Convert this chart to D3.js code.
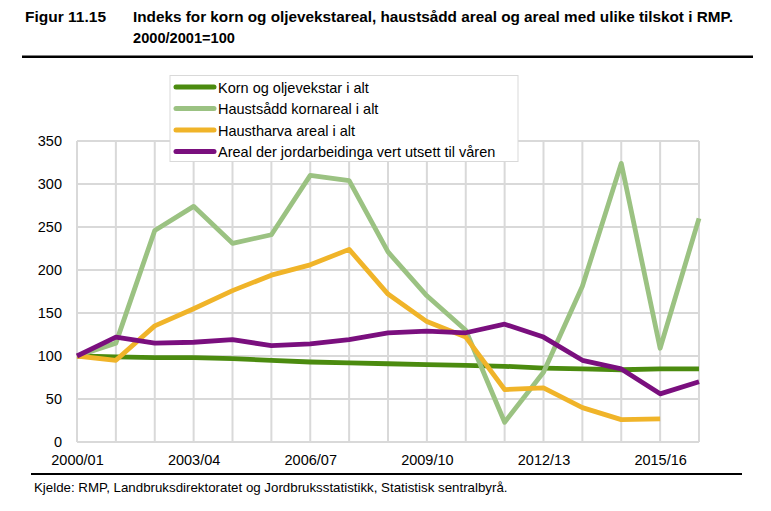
<!DOCTYPE html>
<html><head><meta charset="utf-8">
<script src="https://cdn.jsdelivr.net/npm/d3@7"></script>
<style>body{margin:0;background:#fff;} svg{display:block;font-family:"Liberation Sans",Arial,sans-serif;}</style>
</head><body>
<svg id="c" width="771" height="511"></svg>
<script>
const categories = ["2000/01","2001/02","2002/03","2003/04","2004/05","2005/06","2006/07","2007/08","2008/09","2009/10","2010/11","2011/12","2012/13","2013/14","2014/15","2015/16","2016/17"];
const tickLabels = ["2000/01","2003/04","2006/07","2009/10","2012/13","2015/16"];
const yTicks = [0,50,100,150,200,250,300,350];
const seriesNames = ["Korn og oljevekstar i alt","Haustsådd kornareal i alt","Haustharva areal i alt","Areal der jordarbeidinga vert utsett til våren"];
const korn = [100,99,98,98,97,95,93,92,91,90,89,88,86,85,84,85,85];
const haustsadd = [100,115,246,274,231,241,310,304,221,170,130,23,81,181,324,109,260];
const haustharva = [100,95,135,155,176,194,206,224,172,140,122,61,63,40,26,27,null];
const areal = [100,122,115,116,119,112,114,119,127,129,127,137,122,95,85,56,70];
const colors = ["#4b8b0f","#9bc282","#f0b429","#7a0f7e"];

const svg = d3.select("#c");
const tf = "'Liberation Sans Narrow','Liberation Sans',Arial";
svg.append("text").attr("x",25).attr("y",22).attr("font-weight","bold").attr("font-size",15.5)
  .attr("font-family",tf).attr("textLength",81).attr("lengthAdjust","spacingAndGlyphs").text("Figur 11.15");
svg.append("text").attr("x",133).attr("y",22).attr("font-weight","bold").attr("font-size",15.5)
  .attr("font-family",tf).attr("textLength",600).attr("lengthAdjust","spacingAndGlyphs")
  .text("Indeks for korn og oljevekstareal, haustsådd areal og areal med ulike tilskot i RMP.");
svg.append("text").attr("x",133).attr("y",43).attr("font-weight","bold").attr("font-size",15.5)
  .attr("font-family",tf).attr("textLength",102).attr("lengthAdjust","spacingAndGlyphs").text("2000/2001=100");
svg.append("rect").attr("x",22).attr("y",55.5).attr("width",731).attr("height",2.5).attr("fill","#000");

const x = d3.scalePoint().domain(categories).range([77,699]);
const y = d3.scaleLinear().domain([0,350]).range([442,141]);

const g = svg.append("g");
g.selectAll("line.h").data(yTicks).enter().append("line")
  .attr("x1",77).attr("x2",699).attr("y1",d=>y(d)).attr("y2",d=>y(d))
  .attr("stroke","#d9d9d9").attr("stroke-width",2);
g.selectAll("line.v").data(categories).enter().append("line")
  .attr("x1",d=>x(d)).attr("x2",d=>x(d)).attr("y1",y(0)).attr("y2",y(350))
  .attr("stroke","#d9d9d9").attr("stroke-width",2);

const yAxis = d3.axisLeft(y).tickValues(yTicks).tickSize(0).tickPadding(15);
const ya = svg.append("g").attr("transform","translate(77,0)").call(yAxis);
ya.select(".domain").remove();
ya.selectAll("text").attr("font-size",14.5).attr("fill","#000").attr("font-family","'Liberation Sans',Arial");
const xAxis = d3.axisBottom(x).tickValues(tickLabels).tickSize(0).tickPadding(13);
const xa = svg.append("g").attr("transform","translate(0,442)").call(xAxis);
xa.select(".domain").remove();
xa.selectAll("text").attr("font-size",14.5).attr("fill","#000").attr("font-family","'Liberation Sans',Arial");

const allSeries = [korn,haustsadd,haustharva,areal];
const line = d3.line().defined(d=>d[1]!=null).x(d=>x(d[0])).y(d=>y(d[1]));
[0,1,2,3].forEach(i=>{
  svg.append("path").datum(categories.map((c,j)=>[c,allSeries[i][j]]))
    .attr("d",line).attr("fill","none").attr("stroke",colors[i]).attr("stroke-width",4.8)
    .attr("stroke-linejoin","round");
});

const lg = svg.append("g");
lg.append("rect").attr("x",170).attr("y",75.5).attr("width",348).attr("height",86)
  .attr("fill","#fff").attr("stroke","#d9d9d9").attr("stroke-width",1);
seriesNames.forEach((n,i)=>{
  const yy = 87 + i*21.5;
  lg.append("line").attr("x1",176).attr("x2",214).attr("y1",yy).attr("y2",yy)
    .attr("stroke",colors[i]).attr("stroke-width",5).attr("stroke-linecap","round");
  lg.append("text").attr("x",218).attr("y",yy+5.5).attr("font-size",14.5).text(n);
});

svg.append("rect").attr("x",31).attr("y",473).attr("width",711).attr("height",2).attr("fill","#000");
svg.append("text").attr("x",34).attr("y",492).attr("font-size",13.3)
  .text("Kjelde: RMP, Landbruksdirektoratet og Jordbruksstatistikk, Statistisk sentralbyrå.");
</script>
</body></html>
